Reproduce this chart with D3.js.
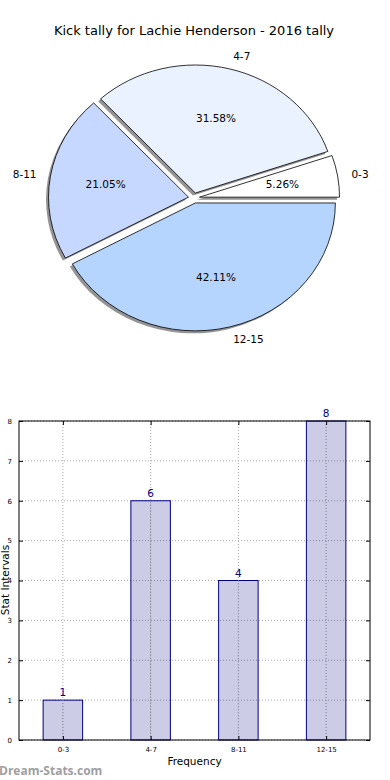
<!DOCTYPE html>
<html>
<head>
<meta charset="utf-8">
<script src="https://cdn.jsdelivr.net/npm/d3@7"></script>
<style>
  body { margin: 0; background: #fff; }
  svg { display: block; font-family: "DejaVu Sans", sans-serif; }
</style>
</head>
<body>
<script>
// Data
var categories = ["0-3", "4-7", "8-11", "12-15"];
var counts = [1, 6, 4, 8];
var pieColors = ["#ffffff", "#eaf2ff", "#c6d8ff", "#b5d5ff"];
var yTicks = [0, 1, 2, 3, 4, 5, 6, 7, 8];

var W = 390, H = 780;
var svg = d3.select("body").append("svg")
  .attr("width", W)
  .attr("height", H);

// ---- Pie chart ----
svg.append("text")
  .attr("x", 194)
  .attr("y", 35)
  .attr("text-anchor", "middle")
  .style("font-size", "13px")
  .text("Kick tally for Lachie Henderson - 2016 tally");

var cx = 194, cy = 198, rx = 140, ry = 128;
var explode = 0.04;
var total = d3.sum(counts);

// matplotlib starts at 3 o'clock and goes counter-clockwise
var pie = d3.pie().sort(null)
  .startAngle(Math.PI / 2)
  .endAngle(Math.PI / 2 - 2 * Math.PI);
var arcs = pie(counts);
var arc = d3.arc().innerRadius(0).outerRadius(1);

function dir(d) {
  var a = (d.startAngle + d.endAngle) / 2;
  return [Math.sin(a), -Math.cos(a)];
}

var pieG = svg.append("g");

// shadows
pieG.selectAll(".shadow")
  .data(arcs)
  .enter().append("path")
  .attr("class", "shadow")
  .attr("d", arc)
  .attr("transform", function (d) {
    var v = dir(d);
    return "translate(" + (cx - 2.5 + v[0] * explode * rx) + "," + (cy + 2.5 + v[1] * explode * ry) + ") scale(" + rx + "," + ry + ")";
  })
  .style("fill", "#3c3c3c")
  .style("opacity", 0.55);

pieG.selectAll(".wedge")
  .data(arcs)
  .enter().append("path")
  .attr("class", "wedge")
  .attr("d", arc)
  .attr("transform", function (d) {
    var v = dir(d);
    return "translate(" + (cx + v[0] * explode * rx) + "," + (cy + v[1] * explode * ry) + ") scale(" + rx + "," + ry + ")";
  })
  .attr("vector-effect", "non-scaling-stroke")
  .style("fill", function (d, i) { return pieColors[i]; })
  .style("stroke", "#000")
  .style("stroke-width", 0.8);

// category labels
pieG.selectAll(".plabel")
  .data(arcs)
  .enter().append("text")
  .attr("class", "plabel")
  .attr("x", function (d) { return cx + dir(d)[0] * (1.1 + explode) * rx; })
  .attr("y", function (d) { return cy + dir(d)[1] * (1.1 + explode) * ry; })
  .attr("dy", "0.35em")
  .attr("text-anchor", function (d) { return dir(d)[0] > 0 ? "start" : "end"; })
  .style("font-size", "10.5px")
  .text(function (d, i) { return categories[i]; });

// percentage labels
pieG.selectAll(".pct")
  .data(arcs)
  .enter().append("text")
  .attr("class", "pct")
  .attr("x", function (d) { return cx + dir(d)[0] * (0.6 + explode) * rx; })
  .attr("y", function (d) { return cy + dir(d)[1] * (0.6 + explode) * ry; })
  .attr("dy", "0.35em")
  .attr("text-anchor", "middle")
  .style("font-size", "10.5px")
  .text(function (d) { return (d.value / total * 100).toFixed(2) + "%"; });

// ---- Bar chart ----
var plotLeft = 19, plotRight = 370, plotTop = 421, plotBottom = 740;
var x = d3.scaleLinear().domain([-0.5, 3.5]).range([plotLeft, plotRight]);
var y = d3.scaleLinear().domain([0, 8]).range([plotBottom, plotTop]);
var barW = 0.45;

var bar = svg.append("g");

// grid
bar.selectAll(".hgrid")
  .data(yTicks)
  .enter().append("line")
  .attr("x1", plotLeft).attr("x2", plotRight)
  .attr("y1", function (d) { return y(d); })
  .attr("y2", function (d) { return y(d); })
  .style("stroke", "#aaa")
  .style("stroke-width", 1)
  .style("stroke-dasharray", "1,2");

bar.selectAll(".vgrid")
  .data(categories)
  .enter().append("line")
  .attr("x1", function (d, i) { return x(i); })
  .attr("x2", function (d, i) { return x(i); })
  .attr("y1", plotTop).attr("y2", plotBottom)
  .style("stroke", "#aaa")
  .style("stroke-width", 1)
  .style("stroke-dasharray", "1,2");

// bars
bar.selectAll(".bar")
  .data(counts)
  .enter().append("rect")
  .attr("class", "bar")
  .attr("x", function (d, i) { return x(i - barW / 2); })
  .attr("width", x(barW) - x(0))
  .attr("y", function (d) { return y(d); })
  .attr("height", function (d) { return y(0) - y(d); })
  .style("fill", "rgba(0,0,128,0.2)")
  .style("stroke", "#000080")
  .style("stroke-width", 1);

// vertical grid over the bars too
bar.selectAll(".vgrid2")
  .data(categories)
  .enter().append("line")
  .attr("x1", function (d, i) { return x(i); })
  .attr("x2", function (d, i) { return x(i); })
  .attr("y1", function (d, i) { return y(counts[i]); }).attr("y2", plotBottom)
  .style("stroke", "#999")
  .style("stroke-width", 1)
  .style("stroke-dasharray", "1,2");

// value labels
bar.selectAll(".val")
  .data(counts)
  .enter().append("text")
  .attr("x", function (d, i) { return x(i); })
  .attr("y", function (d) { return y(d) - 4; })
  .attr("text-anchor", "middle")
  .style("font-size", "10.5px")
  .style("fill", "#000080")
  .text(function (d) { return d; });

// frame
bar.append("rect")
  .attr("x", plotLeft).attr("y", plotTop)
  .attr("width", plotRight - plotLeft).attr("height", plotBottom - plotTop)
  .style("fill", "none")
  .style("stroke", "#000")
  .style("stroke-width", 1);

// axes (ticks inward)
var yAxisL = d3.axisLeft(y).tickValues(yTicks).tickSizeInner(-4).tickSizeOuter(0).tickPadding(7);
var yAxisR = d3.axisRight(y).tickValues(yTicks).tickSizeInner(-4).tickSizeOuter(0).tickFormat("");
var xAxisB = d3.axisBottom(x).tickValues([0, 1, 2, 3]).tickSizeInner(-4).tickSizeOuter(0).tickPadding(7)
  .tickFormat(function (d) { return categories[d]; });
var xAxisT = d3.axisTop(x).tickValues([0, 1, 2, 3]).tickSizeInner(-4).tickSizeOuter(0).tickFormat("");

function styleAxis(g) {
  g.select(".domain").remove();
  g.selectAll("text").style("font-size", "7px").style("font-family", "DejaVu Sans, sans-serif").style("fill", "#000");
  g.selectAll("line").style("stroke", "#000");
}

bar.append("g").attr("transform", "translate(" + plotLeft + ",0)").call(yAxisL).call(styleAxis);
bar.append("g").attr("transform", "translate(" + plotRight + ",0)").call(yAxisR).call(styleAxis);
bar.append("g").attr("transform", "translate(0," + plotBottom + ")").call(xAxisB).call(styleAxis);
bar.append("g").attr("transform", "translate(0," + plotTop + ")").call(xAxisT).call(styleAxis);

// axis titles
svg.append("text")
  .attr("x", (plotLeft + plotRight) / 2)
  .attr("y", 765)
  .attr("text-anchor", "middle")
  .style("font-size", "10.5px")
  .text("Frequency");

svg.append("text")
  .attr("transform", "translate(9,580) rotate(-90)")
  .attr("text-anchor", "middle")
  .style("font-size", "10.5px")
  .text("Stat Intervals");

// watermark
svg.append("text")
  .attr("x", -1)
  .attr("y", 775)
  .style("font-size", "12px")
  .style("font-family", "'Open Sans', sans-serif")
  .style("font-weight", "bold")
  .style("fill", "#a0a0a0")
  .text("Dream-Stats.com");
</script>
</body>
</html>
